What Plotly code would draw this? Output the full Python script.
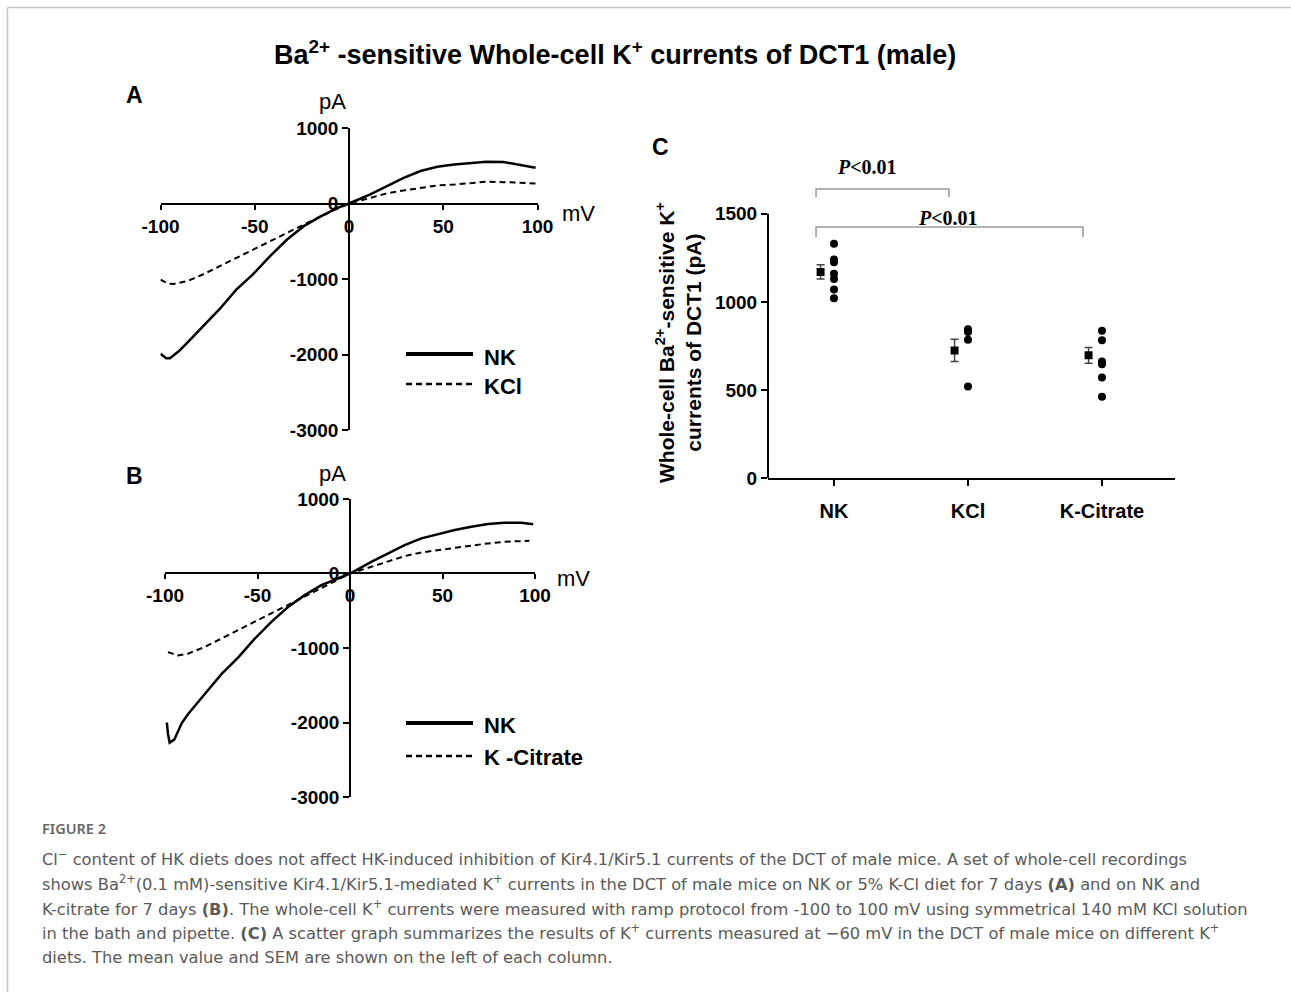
import plotly.graph_objects as go

W, H = 1291, 992

# ---------------- Data ----------------
# Panel A: I-V curves (mV, pA)
a_nk_v = [-100, -97, -95, -90, -86, -77.5, -68.7, -59.8, -51, -42, -33, -24, -15, -6.4, 0,
          11.3, 20.2, 29, 38, 46.8, 55.7, 64.5, 73, 82, 91, 99]
a_nk_i = [-1990, -2050, -2050, -1950, -1850, -1630, -1400, -1140, -940, -700, -480, -300, -170, -60, 0,
          120, 230, 340, 430, 487, 518, 540, 553, 549, 504, 473]
a_kcl_v = [-100, -96, -93, -86, -77.5, -68.7, -60, -51, -42, -33, -24, -15, -6.4, 0,
           11.3, 20, 29, 38, 47, 56, 64.5, 73, 82, 91, 100]
a_kcl_i = [-1010, -1060, -1065, -1030, -940, -830, -720, -610, -500, -390, -280, -170, -70, 0,
           75, 133, 173, 208, 239, 252, 274, 288, 283, 274, 265]

# Panel B
b_nk_v = [-99, -98.4, -97.5, -95, -91, -87.6, -78.6, -69.5, -60.5, -51.5, -42.5, -33.5, -24.5, -15.5, -6.5, 0,
          11.5, 20.5, 29.5, 38.6, 47.6, 56.6, 65.6, 74.6, 83.6, 92.6, 99]
b_nk_i = [-2000, -2150, -2270, -2230, -2010, -1890, -1620, -1350, -1130, -875, -650, -450, -290, -157, -67, 0,
          157, 269, 381, 471, 529, 583, 628, 664, 682, 682, 660]
b_cit_v = [-98.4, -93, -87.6, -78.6, -69.5, -60.5, -51.5, -42.5, -33.5, -24.5, -15.5, -6.5, 0,
           11.5, 20.5, 29.5, 38.6, 47.6, 56.6, 65.6, 74.6, 83.6, 92.6, 97]
b_cit_i = [-1055, -1100, -1076, -987, -874, -762, -650, -538, -426, -314, -202, -90, 0,
           90, 166, 233, 283, 314, 336, 372, 404, 426, 439, 439]

iv_ticks_x = [-100, -50, 0, 50, 100]
iv_ticks_y = [-3000, -2000, -1000, 0, 1000]

# Panel C: scatter summary
groups = ["NK", "KCl", "K-Citrate"]
nk_pts = [1330, 1240, 1225, 1160, 1130, 1070, 1020]
kcl_pts = [845, 830, 785, 520]
cit_pts = [836, 783, 662, 647, 571, 462]
means = [1170, 725, 697]
sems = [40, 63, 45]
c_ticks_y = [0, 500, 1000, 1500]

# ---------------- Helpers ----------------
def px(x):
    return x / W

def py(y):
    return 1 - y / H

FONT = "Liberation Sans, Arial, sans-serif"
SERIF = "Liberation Serif, Times New Roman, serif"

fig = go.Figure()

# Panel A traces
fig.add_trace(go.Scatter(x=a_nk_v, y=a_nk_i, mode="lines", line=dict(color="black", width=2.5),
                         xaxis="x", yaxis="y", showlegend=False))
fig.add_trace(go.Scatter(x=a_kcl_v, y=a_kcl_i, mode="lines",
                         line=dict(color="black", width=2, dash="6px,4px"),
                         xaxis="x", yaxis="y", showlegend=False))
# Panel B traces
fig.add_trace(go.Scatter(x=b_nk_v, y=b_nk_i, mode="lines", line=dict(color="black", width=2.5),
                         xaxis="x2", yaxis="y2", showlegend=False))
fig.add_trace(go.Scatter(x=b_cit_v, y=b_cit_i, mode="lines",
                         line=dict(color="black", width=2, dash="6px,4px"),
                         xaxis="x2", yaxis="y2", showlegend=False))

# Panel C traces
for gi, pts in enumerate([nk_pts, kcl_pts, cit_pts]):
    fig.add_trace(go.Scatter(x=[gi] * len(pts), y=pts, mode="markers",
                             marker=dict(color="black", size=8, symbol="circle"),
                             xaxis="x3", yaxis="y3", showlegend=False))
fig.add_trace(go.Scatter(x=[i - 0.1 for i in range(len(groups))], y=means, mode="markers",
                         marker=dict(color="black", size=8, symbol="square"),
                         error_y=dict(type="data", array=sems, color="#444", thickness=1.5, width=4),
                         xaxis="x3", yaxis="y3", showlegend=False))

# ---------------- Axes ----------------
tickfont = dict(family=FONT, size=19, color="black", weight="bold")

a_x0, a_x1 = 160.5, 537.5
a_ytop, a_ybot = 128, 430
a_zero_y = 204
a_zero_x = 349

b_x0, b_x1 = 165, 535
b_ytop, b_ybot = 499, 797
b_zero_y = 573
b_zero_x = 350

common_x = dict(range=[-100, 100], tickvals=iv_ticks_x, ticktext=[str(v) for v in iv_ticks_x],
                ticks="outside", ticklen=5, tickwidth=1.5,
                showline=True, linewidth=1.5, linecolor="black", tickcolor="black",
                showgrid=False, zeroline=False, tickfont=tickfont, anchor="free", automargin=False)
common_y = dict(range=[-3000, 1000], tickvals=iv_ticks_y, ticktext=[str(v) for v in iv_ticks_y],
                ticks="outside", ticklen=6, tickwidth=1.5,
                showline=True, linewidth=1.5, linecolor="black", tickcolor="black",
                showgrid=False, zeroline=False, tickfont=tickfont, anchor="free", automargin=False)

fig.update_layout(
    xaxis=dict(common_x, domain=[px(a_x0), px(a_x1)], position=py(a_zero_y)),
    yaxis=dict(common_y, domain=[py(a_ybot), py(a_ytop)], position=px(a_zero_x)),
    xaxis2=dict(common_x, domain=[px(b_x0), px(b_x1)], position=py(b_zero_y)),
    yaxis2=dict(common_y, domain=[py(b_ybot), py(b_ytop)], position=px(b_zero_x)),
    xaxis3=dict(domain=[px(768), px(1175)], range=[-0.4925, 2.545], tickvals=[0, 1, 2], ticktext=groups,
                ticks="outside", ticklen=6, tickwidth=2, tickcolor="black",
                showline=True, linewidth=2, linecolor="black", showgrid=False, zeroline=False,
                tickfont=dict(family=FONT, size=20, color="black", weight="bold"),
                ticklabelstandoff=8, anchor="y3", automargin=False),
    yaxis3=dict(domain=[py(478.3), py(178.4)], range=[0, 1700], tickvals=c_ticks_y,
                ticks="outside", ticklen=6, tickwidth=2, tickcolor="black",
                showline=False, showgrid=False, zeroline=False,
                tickfont=dict(family=FONT, size=19, color="black", weight="bold"), anchor="x3",
                automargin=False),
)

# ---------------- Shapes ----------------
shapes = []
# page border (top and left)
shapes.append(dict(type="line", xref="paper", yref="paper", x0=px(7.5), x1=1, y0=py(7.5), y1=py(7.5),
                   line=dict(color="#c8c8c8", width=1.5)))
shapes.append(dict(type="line", xref="paper", yref="paper", x0=px(7.5), x1=px(7.5), y0=0, y1=py(7.5),
                   line=dict(color="#c8c8c8", width=1.5)))
# C y axis line up to 1500
shapes.append(dict(type="line", xref="x3 domain", yref="y3", x0=0, x1=0, y0=0, y1=1500,
                   line=dict(color="black", width=2)))
# significance brackets
shapes.append(dict(type="path", xref="x3", yref="y3",
                   path="M -0.134,1595 L -0.134,1640 L 0.858,1640 L 0.858,1595",
                   line=dict(color="#999999", width=1.5)))
shapes.append(dict(type="path", xref="x3", yref="y3",
                   path="M -0.134,1368 L -0.134,1425 L 1.858,1425 L 1.858,1368",
                   line=dict(color="#999999", width=1.5)))
# legend samples
for (yy, dash, wd) in [(354, "solid", 4), (384, "6px,4px", 2.5), (723, "solid", 4), (756, "6px,4px", 2.5)]:
    shapes.append(dict(type="line", xref="paper", yref="paper", x0=px(406), x1=px(473), y0=py(yy), y1=py(yy),
                       line=dict(color="black", width=wd, dash=dash)))
fig.update_layout(shapes=shapes)

# ---------------- Annotations ----------------
ann = []

def add_text(text, x, y, size, xanchor="center", yanchor="middle", color="black", family=FONT, weight=None,
             textangle=0, align="center"):
    f = dict(family=family, size=size, color=color)
    if weight:
        f["weight"] = weight
    ann.append(dict(text=text, x=px(x), y=py(y), xref="paper", yref="paper", showarrow=False,
                    xanchor=xanchor, yanchor=yanchor, font=f, textangle=textangle, align=align))

add_text("<b>Ba<sup>2+</sup> -sensitive Whole-cell K<sup>+</sup> currents of DCT1 (male)</b>", 615, 53, 27)
add_text("<b>A</b>", 124, 95, 23, xanchor="left")
add_text("<b>B</b>", 124, 476, 23, xanchor="left")
add_text("<b>C</b>", 650, 147, 23, xanchor="left")
add_text("pA", 333, 102, 22)
add_text("mV", 578, 214, 22)
add_text("pA", 332, 473, 22)
add_text("mV", 573, 578, 22)
add_text("<b>NK</b>", 482, 357, 22, xanchor="left")
add_text("<b>KCl</b>", 482, 386, 22, xanchor="left")
add_text("<b>NK</b>", 482, 725, 22, xanchor="left")
add_text("<b>K -Citrate</b>", 482, 757, 22, xanchor="left")
add_text("<b><i>P</i>&lt;0.01</b>", 867, 167, 20, family=SERIF)
add_text("<b><i>P</i>&lt;0.01</b>", 948, 218, 20, family=SERIF)
add_text("<b>Whole-cell Ba<sup>2+</sup>-sensitive K<sup>+</sup><br>currents of DCT1 (pA)</b>", 679, 343, 21,
         textangle=-90)

# Caption
CAP = "DejaVu Sans, Noto Sans, sans-serif"
cap_col = "#5a5a5a"
add_text("FIGURE 2", 40, 828, 14.5, xanchor="left", color="#666666", family="Noto Sans, sans-serif", weight=600)
cap_lines = [
    "Cl<sup>−</sup> content of HK diets does not affect HK-induced inhibition of Kir4.1/Kir5.1 currents of the DCT of male mice. A set of whole-cell recordings",
    "shows Ba<sup>2+</sup>(0.1 mM)-sensitive Kir4.1/Kir5.1-mediated K<sup>+</sup> currents in the DCT of male mice on NK or 5% K-Cl diet for 7 days <b>(A)</b> and on NK and",
    "K-citrate for 7 days <b>(B)</b>. The whole-cell K<sup>+</sup> currents were measured with ramp protocol from -100 to 100 mV using symmetrical 140 mM KCl solution",
    "in the bath and pipette. <b>(C)</b> A scatter graph summarizes the results of K<sup>+</sup> currents measured at −60 mV in the DCT of male mice on different K<sup>+</sup>",
    "diets. The mean value and SEM are shown on the left of each column.",
]
cap_y = [858, 883, 908, 932, 957]
for t, yy in zip(cap_lines, cap_y):
    add_text(t, 40, yy, 16.3, xanchor="left", color=cap_col, family=CAP)

fig.update_layout(annotations=ann)

fig.update_layout(
    width=W, height=H, margin=dict(l=0, r=0, t=0, b=0, autoexpand=False),
    paper_bgcolor="white", plot_bgcolor="rgba(0,0,0,0)",
    showlegend=False,
)

fig.write_html("out.html", config={"displayModeBar": False})
